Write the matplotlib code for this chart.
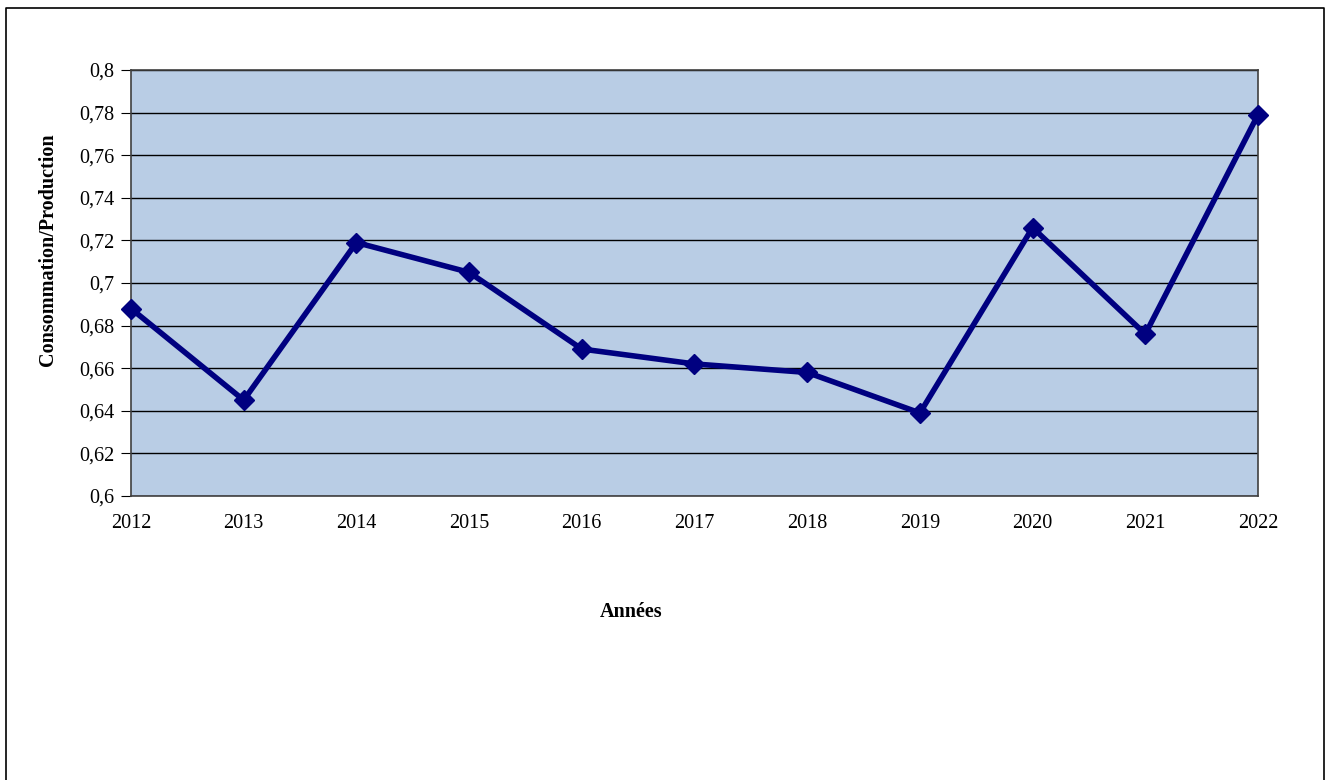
import matplotlib
matplotlib.use("Agg")
import matplotlib.pyplot as plt
from matplotlib.ticker import FuncFormatter

annees = [2012, 2013, 2014, 2015, 2016, 2017, 2018, 2019, 2020, 2021, 2022]
ratio = [0.688, 0.645, 0.719, 0.705, 0.669, 0.662, 0.658, 0.639, 0.726, 0.676, 0.779]
y_ticks = [0.6, 0.62, 0.64, 0.66, 0.68, 0.7, 0.72, 0.74, 0.76, 0.78, 0.8]

plt.rcParams['font.family'] = ['Liberation Serif', 'DejaVu Serif']

W, H = 1327, 780
fig = plt.figure(figsize=(W / 100, H / 100), dpi=100)

# cadre exterieur (bas coupé)
fig.add_artist(plt.Line2D([6 / W, 6 / W, 1324 / W, 1324 / W],
                          [-0.01, 1 - 8 / H, 1 - 8 / H, -0.01],
                          transform=fig.transFigure, color='black', lw=1.2))

ax = fig.add_axes([131 / W, 1 - 496 / H, (1258 - 131) / W, (496 - 70) / H])
ax.set_facecolor('#b9cde5')

ax.plot(annees, ratio, color='#000080', lw=4, marker='D', markersize=10, zorder=3,
        clip_on=False)

ax.set_xlim(2012, 2022)
ax.set_ylim(0.6, 0.8)
ax.set_xticks(annees)
ax.set_yticks(y_ticks)
ax.yaxis.set_major_formatter(FuncFormatter(lambda v, p: f"{v:g}".replace('.', ',')))
ax.grid(axis='y', color='black', lw=1)
ax.set_axisbelow(True)

ax.tick_params(axis='y', direction='out', length=7, labelsize=14.5, pad=5)
ax.tick_params(axis='x', length=0, labelsize=14.5, pad=13)

for s in ax.spines.values():
    s.set_color('#404040')
    s.set_linewidth(1.2)

fig.text(48 / W, 1 - 250 / H, 'Consommation/Production', fontsize=14.5, fontweight='bold',
         rotation=90, ha='center', va='center')
fig.text(631 / W, 1 - 612 / H, 'Années', fontsize=14.5, fontweight='bold',
         ha='center', va='center')

plt.savefig('out.png', dpi=100)
